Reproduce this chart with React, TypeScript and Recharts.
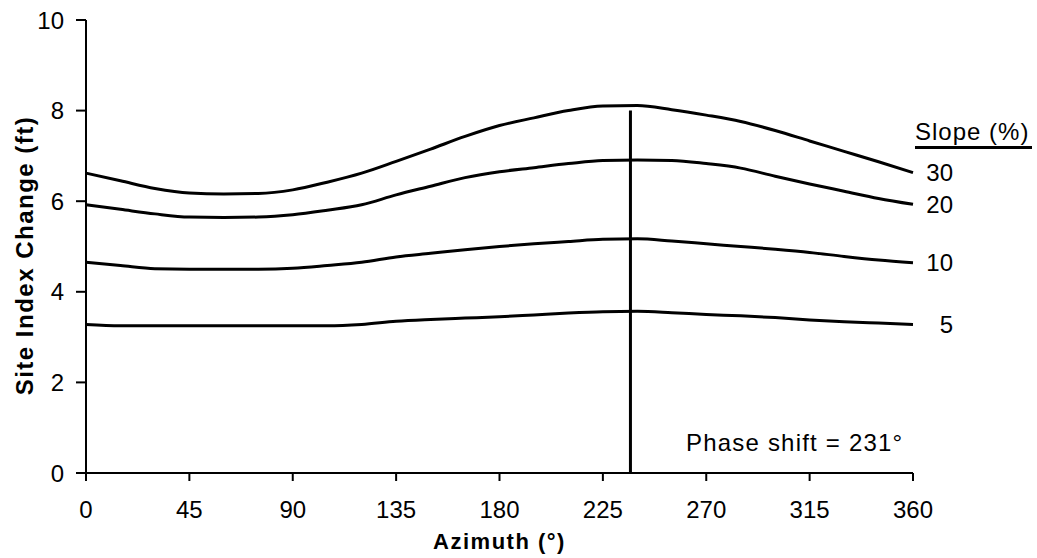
import { LineChart, Line, XAxis, YAxis, ReferenceLine } from "recharts";

// azimuth in degrees, site index change in feet
const azimuth = [0, 15, 30, 45, 60, 75, 90, 105, 120, 135, 150, 165, 180, 195, 210, 225, 240, 255, 270, 285, 300, 315, 330, 345, 360];
const slope30 = [6.62, 6.45, 6.28, 6.18, 6.16, 6.17, 6.25, 6.42, 6.62, 6.88, 7.15, 7.43, 7.67, 7.84, 8.0, 8.1, 8.11, 8.02, 7.9, 7.76, 7.56, 7.33, 7.1, 6.87, 6.63];
const slope20 = [5.92, 5.82, 5.72, 5.65, 5.64, 5.65, 5.7, 5.8, 5.92, 6.14, 6.33, 6.52, 6.65, 6.74, 6.83, 6.9, 6.91, 6.9, 6.83, 6.73, 6.55, 6.38, 6.22, 6.06, 5.93];
const slope10 = [4.65, 4.58, 4.51, 4.5, 4.5, 4.5, 4.52, 4.58, 4.65, 4.77, 4.85, 4.93, 5.0, 5.06, 5.11, 5.16, 5.17, 5.12, 5.06, 5.0, 4.94, 4.87, 4.78, 4.7, 4.64];
const slope5 = [3.28, 3.25, 3.25, 3.25, 3.25, 3.25, 3.25, 3.25, 3.28, 3.35, 3.39, 3.42, 3.45, 3.49, 3.53, 3.56, 3.57, 3.54, 3.5, 3.47, 3.43, 3.38, 3.34, 3.31, 3.28];

const seriesKeys = ["s30", "s20", "s10", "s5"];
const seriesLabels = ["30", "20", "10", "5"];

const xTicks = [0, 45, 90, 135, 180, 225, 270, 315, 360];
const yTicks = [0, 2, 4, 6, 8, 10];

// vertical marker as drawn in the figure
const phaseX = 237;
const phaseTop = 8;

const chartData = azimuth.map((a, i) => ({
  azimuth: a,
  s30: slope30[i],
  s20: slope20[i],
  s10: slope10[i],
  s5: slope5[i],
}));

const FONT = "'Liberation Sans', Arial, sans-serif";

function endLabel(text: string) {
  return (props: any) => {
    if (props.index !== azimuth.length - 1) return null;
    return (
      <text
        x={props.x + 40}
        y={props.y}
        dy="0.36em"
        textAnchor="end"
        fontSize={24}
        fontFamily={FONT}
        fill="#000"
      >
        {text}
      </text>
    );
  };
}

function YTitle(props: any) {
  const vb = props.viewBox || { x: 26, y: 20, width: 60, height: 453 };
  const cx = vb.x + 7;
  const cy = vb.y + vb.height / 2 + 9;
  return (
    <text
      x={cx}
      y={cy}
      transform={`rotate(-90 ${cx} ${cy})`}
      textAnchor="middle"
      fontSize={24}
      fontWeight="bold"
      fontFamily={FONT}
      letterSpacing={1.5}
      fill="#000"
    >
      Site Index Change (ft)
    </text>
  );
}

export default function App() {
  return (
    <div style={{ position: "absolute", left: 0, top: 0, width: 1037, height: 558, background: "#fff" }}>
      <LineChart
        width={1037}
        height={558}
        data={chartData}
        margin={{ top: 20, right: 124, left: 26, bottom: 45 }}
      >
        <XAxis
          dataKey="azimuth"
          type="number"
          domain={[0, 360]}
          ticks={xTicks}
          height={40}
          stroke="#000"
          strokeWidth={2}
          tickSize={8}
          tickMargin={20}
          tick={{ fill: "#000", fontSize: 24, fontFamily: FONT }}
          label={{
            value: "Azimuth (°)",
            position: "insideBottom",
            offset: -36,
            fill: "#000",
            fontSize: 22,
            fontWeight: "bold",
            fontFamily: FONT,
            letterSpacing: 1.5,
          }}
        />
        <YAxis
          domain={[0, 10]}
          ticks={yTicks}
          width={60}
          stroke="#000"
          strokeWidth={2}
          tickSize={10}
          tickMargin={12}
          tick={{ fill: "#000", fontSize: 24, fontFamily: FONT }}
          label={{ content: <YTitle /> }}
        />
        <ReferenceLine
          segment={[
            { x: phaseX, y: 0 },
            { x: phaseX, y: phaseTop },
          ]}
          stroke="#000"
          strokeWidth={3}
        />
        {seriesKeys.map((k, i) => (
          <Line
            key={k}
            type="monotone"
            dataKey={k}
            stroke="#000"
            strokeWidth={3}
            dot={false}
            activeDot={false}
            isAnimationActive={false}
            label={endLabel(seriesLabels[i])}
          />
        ))}
      </LineChart>
      <div
        style={{
          position: "absolute",
          left: 915,
          top: 118,
          width: 117,
          fontFamily: FONT,
          fontSize: 24,
          letterSpacing: 1,
          lineHeight: "28px",
          borderBottom: "3px solid #000",
          whiteSpace: "nowrap",
        }}
      >
        Slope (%)
      </div>
      <div
        style={{
          position: "absolute",
          left: 686,
          top: 428,
          fontFamily: FONT,
          fontSize: 24,
          letterSpacing: 1.2,
          lineHeight: "30px",
          whiteSpace: "nowrap",
        }}
      >
        Phase shift = 231°
      </div>
    </div>
  );
}
